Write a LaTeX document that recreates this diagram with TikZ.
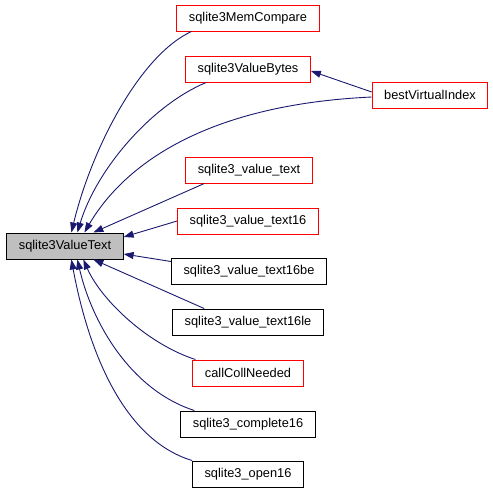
\documentclass[tikz,border=0pt]{standalone}
\usepackage{fontspec}
\setmainfont{Liberation Sans}
\usetikzlibrary{positioning,arrows.meta}
\definecolor{edgeblue}{HTML}{191970}
\definecolor{truncred}{HTML}{FF0000}

\begin{document}
\begin{tikzpicture}[
    x=1pt, y=-1pt,
    fnnode/.style={draw=black, line width=1pt, rectangle, minimum height=26pt, inner xsep=12pt, inner ysep=0pt, fill=white, font=\fontsize{12.8}{15}\selectfont},
    truncnode/.style={fnnode, draw=truncred},
    mainnode/.style={fnnode, fill=black!25},
    calledge/.style={draw=edgeblue, line width=0.9pt, -{Triangle[length=10pt,width=7pt]}}
]
\useasboundingbox (0,0) rectangle (493,493);

% the function and its callers
\node[mainnode] (valuetext) at (65,246) {sqlite3ValueText};
\node[truncnode] (memcompare) at (248,18) {sqlite3MemCompare};
\node[truncnode] (valuebytes) at (248,69) {sqlite3ValueBytes};
\node[truncnode] (bestindex) at (430,95) {bestVirtualIndex};
\node[truncnode] (vtext) at (249,170) {sqlite3\_value\_text};
\node[truncnode] (vtext16) at (248,221) {sqlite3\_value\_text16};
\node[fnnode] (vtext16be) at (249,271) {sqlite3\_value\_text16be};
\node[fnnode] (vtext16le) at (248,322) {sqlite3\_value\_text16le};
\node[truncnode] (collneeded) at (248,373) {callCollNeeded};
\node[fnnode] (complete16) at (248,424) {sqlite3\_complete16};
\node[fnnode] (open16) at (248,474) {sqlite3\_open16};

% call edges
\draw[calledge] ([xshift=15pt]memcompare.south west) .. controls +(-52,24) and +(20,-83) .. ([xshift=65pt]valuetext.north west);
\draw[calledge] ([xshift=21pt]valuebytes.south west) .. controls +(-55,23) and +(19,-63) .. ([xshift=71pt]valuetext.north west);
\draw[calledge] ([yshift=-2pt]bestindex.west) .. controls +(-173,8) and +(37,-63) .. ([xshift=78pt]valuetext.north west);
\draw[calledge] ([yshift=3pt]bestindex.west) -- ([yshift=-2pt]valuebytes.east);
\draw[calledge] ([xshift=19pt]vtext.south west) -- ([xshift=87pt]valuetext.north west);
\draw[calledge] (vtext16.west) -- ([yshift=9pt]valuetext.east);
\draw[calledge] ([yshift=-4pt]vtext16be.north west) -- ([yshift=-8pt]valuetext.east);
\draw[calledge] ([xshift=32pt]vtext16le.north west) -- ([xshift=87pt]valuetext.south west);
\draw[calledge] ([xshift=3pt]collneeded.north west) .. controls +(-47,-15) and +(18,41) .. ([xshift=77pt]valuetext.south west);
\draw[calledge] ([xshift=14pt]complete16.north west) .. controls +(-65,-21) and +(14,61) .. ([xshift=71pt]valuetext.south west);
\draw[calledge] (open16.north west) .. controls +(-73,-22) and +(15,81) .. ([xshift=65pt]valuetext.south west);
\end{tikzpicture}
\end{document}
